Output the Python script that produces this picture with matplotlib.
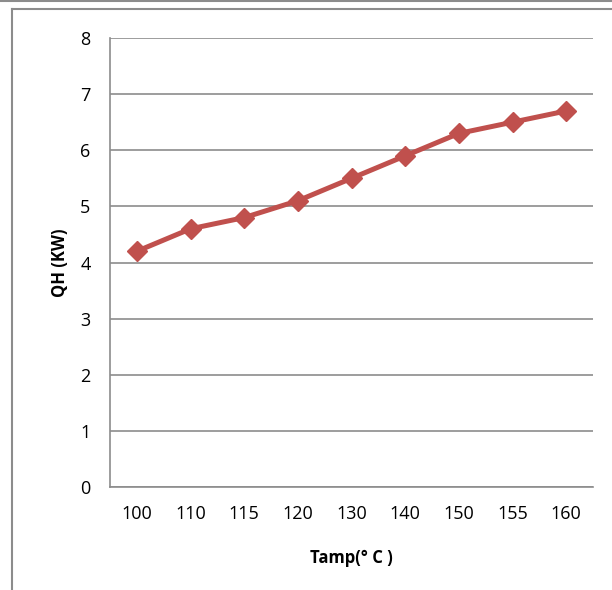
import matplotlib
matplotlib.use("Agg")
import matplotlib.pyplot as plt
from matplotlib.lines import Line2D

plt.rcParams['font.family'] = ['Open Sans', 'DejaVu Sans']

temps = ['100', '110', '115', '120', '130', '140', '150', '155', '160']
qh = [4.2, 4.6, 4.8, 5.1, 5.5, 5.9, 6.3, 6.5, 6.7]

fig = plt.figure(figsize=(6.12, 5.9), dpi=100)
ax = fig.add_axes([110/612, 1-487/590, (593-110)/612, (487-38)/590])

x = list(range(len(temps)))
ax.plot(x, qh, color='#C0504D', lw=3.6, marker='D', ms=10, mfc='#C0504D', mec='#C0504D')

ax.set_xlim(-0.5, len(temps) - 0.5)
ax.set_ylim(0, 8)
ax.set_yticks(range(0, 9))
ax.set_xticks(x)
ax.set_xticklabels(temps)
ax.tick_params(length=0, labelsize=13, pad=13)
ax.tick_params(axis='y', pad=14)
ax.grid(axis='y', color='#8c8c8c', lw=1.2)
ax.set_axisbelow(True)
for s in ['top', 'right']:
    ax.spines[s].set_visible(False)
for s in ['left', 'bottom']:
    ax.spines[s].set_color('#8c8c8c')
    ax.spines[s].set_linewidth(1.2)

ax.set_ylabel('QH (KW)', fontsize=12, fontweight='bold', labelpad=8)
ax.set_xlabel('Tamp(° C )', fontsize=12, fontweight='bold', labelpad=19)

# outer chart frame
fig.add_artist(Line2D([0, 1], [1 - 1/590, 1 - 1/590], color='#8c8c8c', lw=1.5))
fig.add_artist(Line2D([12/612, 1], [1 - 9/590, 1 - 9/590], color='#8c8c8c', lw=1.5))
fig.add_artist(Line2D([12/612, 12/612], [0, 1 - 9/590], color='#8c8c8c', lw=1.5))

fig.savefig('out.png', dpi=100)
